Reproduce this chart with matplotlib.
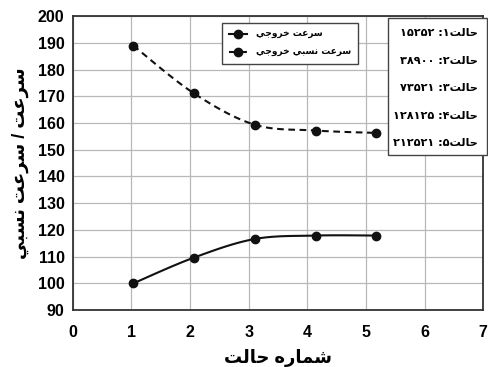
import numpy as np
import matplotlib
matplotlib.use("Agg")
import matplotlib.pyplot as plt
from matplotlib.lines import Line2D
from matplotlib.patches import Rectangle

# --- data ---
state_x = [1.03, 2.06, 3.10, 4.14, 5.18]
speed_out = [100.0, 109.6, 116.6, 117.9, 117.9]
speed_rel = [189.0, 171.2, 159.4, 157.2, 156.3]
state_counts = [15252, 38900, 73521, 128125, 212521]

xticks = [0, 1, 2, 3, 4, 5, 6, 7]
yticks = [90, 100, 110, 120, 130, 140, 150, 160, 170, 180, 190, 200]

lbl_out = "سرعت خروجي"
lbl_rel = "سرعت نسبي خروجي"
lbl_y = "سرعت / سرعت نسبي"
lbl_x = "شماره حالت"
lbl_state = "حالت"

# --- minimal arabic shaping (presentation forms) + visual order ---
FORMS = {
    "ا": ("\uFE8D", "\uFE8E", None, None),
    "ب": ("\uFE8F", "\uFE90", "\uFE91", "\uFE92"),
    "ت": ("\uFE95", "\uFE96", "\uFE97", "\uFE98"),
    "ج": ("\uFE9D", "\uFE9E", "\uFE9F", "\uFEA0"),
    "ح": ("\uFEA1", "\uFEA2", "\uFEA3", "\uFEA4"),
    "خ": ("\uFEA5", "\uFEA6", "\uFEA7", "\uFEA8"),
    "ر": ("\uFEAD", "\uFEAE", None, None),
    "س": ("\uFEB1", "\uFEB2", "\uFEB3", "\uFEB4"),
    "ش": ("\uFEB5", "\uFEB6", "\uFEB7", "\uFEB8"),
    "ع": ("\uFEC9", "\uFECA", "\uFECB", "\uFECC"),
    "ل": ("\uFEDD", "\uFEDE", "\uFEDF", "\uFEE0"),
    "م": ("\uFEE1", "\uFEE2", "\uFEE3", "\uFEE4"),
    "ن": ("\uFEE5", "\uFEE6", "\uFEE7", "\uFEE8"),
    "ه": ("\uFEE9", "\uFEEA", "\uFEEB", "\uFEEC"),
    "و": ("\uFEED", "\uFEEE", None, None),
    "ي": ("\uFEF1", "\uFEF2", "\uFEF3", "\uFEF4"),
}
FA_DIGITS = "۰۱۲۳۴۵۶۷۸۹"


def fa_num(n):
    return "".join(FA_DIGITS[int(d)] for d in str(n))


def shape(s):
    out = []
    for i, ch in enumerate(s):
        if ch not in FORMS:
            out.append(ch)
            continue
        f = FORMS[ch]
        prev = s[i - 1] if i > 0 else ""
        nxt = s[i + 1] if i + 1 < len(s) else ""
        pj = prev in FORMS and FORMS[prev][2] is not None
        nj = nxt in FORMS and f[2] is not None
        if pj and nj:
            out.append(f[3])
        elif pj:
            out.append(f[1])
        elif nj:
            out.append(f[2])
        else:
            out.append(f[0])
    # reverse for rtl, keep digit runs left to right
    rev = "".join(out)[::-1]
    res, run = "", ""
    for ch in rev:
        if ch in FA_DIGITS or ch.isdigit():
            run += ch
        else:
            res += run[::-1] + ch
            run = ""
    return res + run[::-1]


def smooth(x, y, n=24):
    # catmull-rom through the points, like a smoothed line chart
    x = np.asarray(x, float)
    y = np.asarray(y, float)
    px = np.r_[x[0], x, x[-1]]
    py = np.r_[y[0], y, y[-1]]
    xs, ys = [], []
    t = np.linspace(0, 1, n)
    for i in range(1, len(px) - 2):
        for p, acc in ((px, xs), (py, ys)):
            p0, p1, p2, p3 = p[i - 1], p[i], p[i + 1], p[i + 2]
            acc.append(0.5 * (2 * p1 + (-p0 + p2) * t
                              + (2 * p0 - 5 * p1 + 4 * p2 - p3) * t ** 2
                              + (-p0 + 3 * p1 - 3 * p2 + p3) * t ** 3))
    return np.concatenate(xs), np.concatenate(ys)


plt.rcParams['font.family'] = ['Liberation Sans', 'DejaVu Sans']
plt.rcParams['font.weight'] = 'bold'

fig = plt.figure(figsize=(4.89, 3.67), dpi=100)
ax = fig.add_axes([0.149, 0.155, 0.839, 0.801])

ink = "#111111"
sx, sy = smooth(state_x, speed_out)
ax.plot(sx, sy, color=ink, lw=1.5)
ax.plot(state_x, speed_out, "o", color=ink, ms=6)

rx, ry = smooth(state_x, speed_rel)
ax.plot(rx, ry, color=ink, lw=1.5, dashes=(3.2, 2.2))
ax.plot(state_x, speed_rel, "o", color=ink, ms=6)

ax.set_xlim(0, 7)
ax.set_ylim(90, 200)
ax.set_xticks(xticks)
ax.set_yticks(yticks)
ax.grid(True, color="#b8b8b8", lw=0.9)
ax.set_axisbelow(True)
ax.tick_params(length=0, labelsize=11.5)
ax.tick_params(axis="y", pad=6)
ax.tick_params(axis="x", pad=11)
for sp in ax.spines.values():
    sp.set_color("#333333")
    sp.set_linewidth(1.3)

ax.set_xlabel(shape(lbl_x), fontsize=13, fontweight="bold", labelpad=6)
ax.set_ylabel(shape(lbl_y), fontsize=13, fontweight="bold", labelpad=6)

handles = [
    Line2D([], [], color=ink, lw=1.5, marker="o", ms=6),
    Line2D([], [], color=ink, lw=1.5, marker="o", ms=6, dashes=(3.2, 2.2)),
]
leg = ax.legend(handles, [shape(lbl_out), shape(lbl_rel)],
                loc="upper left", bbox_to_anchor=(0.363, 0.975),
                prop={"size": 6.5, "family": "DejaVu Sans"},
                fancybox=False, framealpha=1, edgecolor="#444444",
                handlelength=2.0, borderpad=0.75, labelspacing=0.95,
                handletextpad=1.0, borderaxespad=0)
leg.get_frame().set_linewidth(1.0)

# box with the state sizes, sticking slightly out past the right spine
ax.add_patch(Rectangle((0.768, 0.527), 0.242, 0.466, transform=ax.transAxes,
                       fc="white", ec="#444444", lw=1.0, clip_on=False,
                       zorder=5))
for i, c in enumerate(state_counts):
    ax.text(0.987, 0.942 - i * 0.0935,
            shape(lbl_state + FA_DIGITS[i + 1] + ": " + fa_num(c)),
            transform=ax.transAxes, ha="right", va="center", fontsize=8.1,
            family="DejaVu Sans", fontweight="bold", clip_on=False, zorder=6)

fig.savefig("out.png", dpi=100)
